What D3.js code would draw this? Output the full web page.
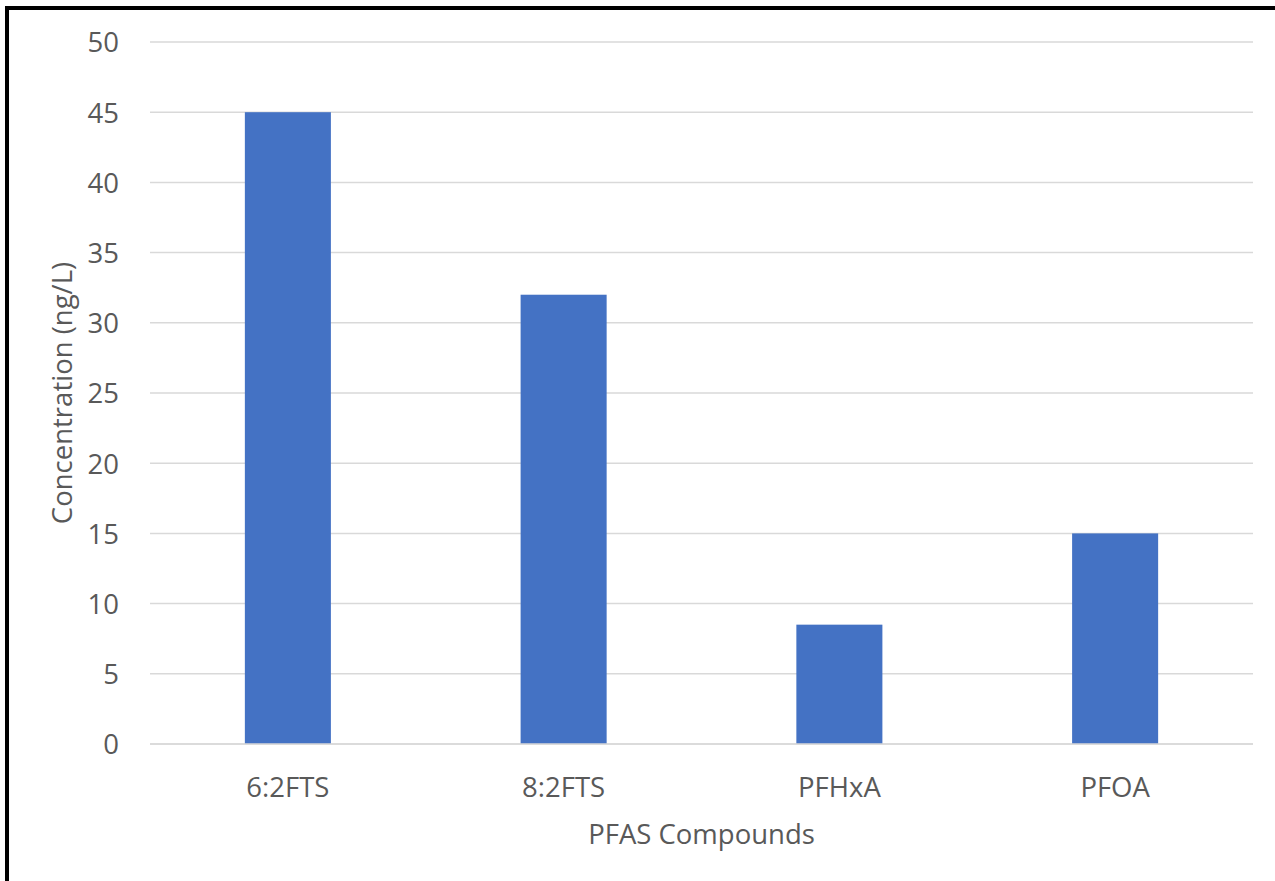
<!DOCTYPE html>
<html>
<head>
<meta charset="utf-8">
<script src="https://cdn.jsdelivr.net/npm/d3@7/dist/d3.min.js"></script>
<style>
  html, body { margin: 0; padding: 0; background: #fff; }
  svg { display: block; }
  text { font-family: "Open Sans", "Noto Sans", sans-serif; fill: #595959; }
</style>
</head>
<body>
<svg id="chart" width="1275" height="881"></svg>
<script>
// PFAS concentrations by compound
const compounds = ["6:2FTS", "8:2FTS", "PFHxA", "PFOA"];
const concentrations = [45, 32, 8.5, 15];
const yTicks = [0, 5, 10, 15, 20, 25, 30, 35, 40, 45, 50];
const xTitle = "PFAS Compounds";
const yTitle = "Concentration (ng/L)";

const svg = d3.select("#chart");
const W = 1275, H = 881;
const plot = { left: 150, right: 1253, top: 42, bottom: 744 };
const fontSize = 27.5;

svg.append("rect").attr("width", W).attr("height", H).attr("fill", "#fff");

const x = d3.scaleBand()
  .domain(compounds)
  .range([plot.left, plot.right])
  .paddingInner(0.688)
  .paddingOuter(0.344);

const y = d3.scaleLinear().domain([0, 50]).range([plot.bottom, plot.top]);

// horizontal gridlines
svg.append("g")
  .selectAll("line")
  .data(yTicks)
  .join("line")
  .attr("x1", plot.left).attr("x2", plot.right)
  .attr("y1", d => y(d)).attr("y2", d => y(d))
  .attr("stroke", "#d9d9d9").attr("stroke-width", 1.5);

// bars
svg.append("g")
  .selectAll("rect")
  .data(compounds)
  .join("rect")
  .attr("x", d => x(d))
  .attr("width", x.bandwidth())
  .attr("y", (d, i) => y(concentrations[i]))
  .attr("height", (d, i) => y(0) - y(concentrations[i]))
  .attr("fill", "#4472c4");

// y axis tick labels
const yAxis = d3.axisLeft(y).tickValues(yTicks).tickSize(0).tickPadding(0);
const gy = svg.append("g").attr("transform", "translate(119,0)").call(yAxis);
gy.select(".domain").remove();
gy.selectAll("text")
  .attr("font-size", fontSize)
  .attr("font-family", "'Open Sans', 'Noto Sans', sans-serif")
  .attr("fill", "#595959")
  .attr("dy", "0.36em");

// x axis category labels
const xAxis = d3.axisBottom(x).tickSize(0).tickPadding(0);
const gx = svg.append("g").attr("transform", `translate(0,${plot.bottom})`).call(xAxis);
gx.select(".domain").attr("stroke", "#d9d9d9").attr("stroke-width", 1.5)
  .attr("d", `M${plot.left},0H${plot.right}`);
gx.selectAll("text")
  .attr("font-size", fontSize)
  .attr("font-family", "'Open Sans', 'Noto Sans', sans-serif")
  .attr("fill", "#595959")
  .attr("y", 53).attr("dy", 0);

// axis titles
svg.append("text")
  .attr("x", (plot.left + plot.right) / 2).attr("y", 844)
  .attr("text-anchor", "middle").attr("font-size", fontSize)
  .text(xTitle);

svg.append("text")
  .attr("transform", `translate(72,${(plot.top + plot.bottom) / 2}) rotate(-90)`)
  .attr("text-anchor", "middle").attr("font-size", fontSize)
  .text(yTitle);

// frame
svg.append("rect")
  .attr("x", 7).attr("y", 8)
  .attr("width", W + 10).attr("height", H + 10)
  .attr("fill", "none").attr("stroke", "#000").attr("stroke-width", 4);
</script>
</body>
</html>
